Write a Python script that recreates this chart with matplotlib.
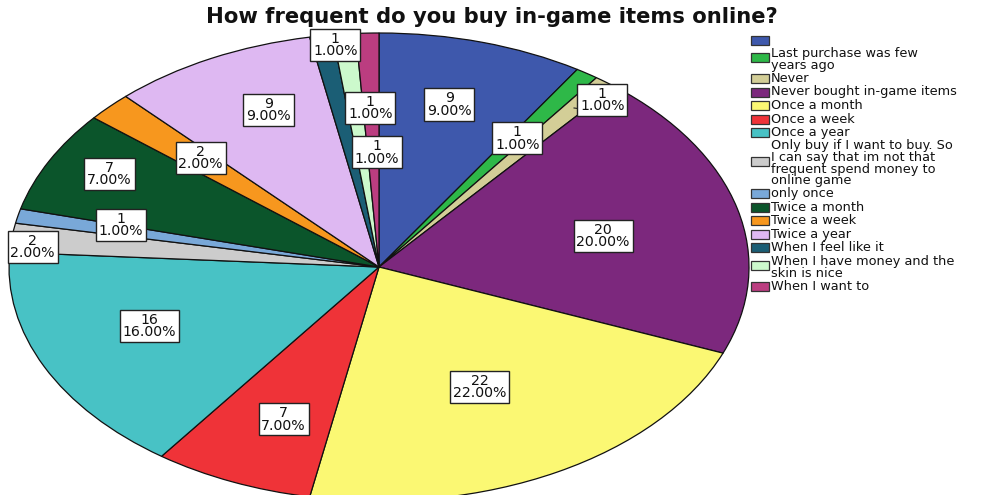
import matplotlib
matplotlib.use("Agg")
import matplotlib.pyplot as plt
from matplotlib.patches import Rectangle
import numpy as np

plt.rcParams["font.family"] = ["DejaVu Sans"]

# ---- data ---------------------------------------------------------------
categories = [
    "",
    "Last purchase was few\nyears ago",
    "Never",
    "Never bought in-game items",
    "Once a month",
    "Once a week",
    "Once a year",
    "Only buy if I want to buy. So\nI can say that im not that\nfrequent spend money to\nonline game",
    "only once",
    "Twice a month",
    "Twice a week",
    "Twice a year",
    "When I feel like it",
    "When I have money and the\nskin is nice",
    "When I want to",
]
counts = [9, 1, 1, 20, 22, 7, 16, 2, 1, 7, 2, 9, 1, 1, 1]
colors = [
    "#3E58AC", "#2EB848", "#D3CE97", "#7C287D", "#FBF873", "#EF3338",
    "#48C2C5", "#CCCCCC", "#79A8D8", "#0B552B", "#F7971E", "#DEB8F2",
    "#1B5E75", "#CCF9CC", "#BB3D80",
]
title = "How frequent do you buy in-game items online?"

# label placement: radial distance (fraction of radius) and angular nudge (deg)
label_r = [0.72, 0.665, 0.935, 0.62, 0.58, 0.70, 0.67, 0.94, 0.72, 0.83,
           0.67, 0.735, 0.956, 0.68, 0.49]
label_nudge = [0.9, 0, -2.4, -2, -0.8, 1.8, -3, 2, -1.8, -1.6, -0.8, -3,
               -1.9, -3.4, -1.2]

W, H = 992, 495
fig = plt.figure(figsize=(W / 100, H / 100), dpi=100)

# pie axes: centre (379, 267) px, half-axes 370 x 234 px
cx, cy, rx, ry = 379, 267, 370, 234
ax = fig.add_axes([(cx - rx) / W, (H - cy - ry) / H, 2 * rx / W, 2 * ry / H])
wedges, _ = ax.pie(
    counts, colors=colors, startangle=90, counterclock=False,
    wedgeprops=dict(edgecolor="#111111", linewidth=0.9),
)
ax.set_aspect("auto")
ax.set_xlim(-1, 1)
ax.set_ylim(-1, 1)
ax.axis("off")

total = sum(counts)
cum = np.cumsum([0] + counts[:-1])
for i, (c, start) in enumerate(zip(counts, cum)):
    mid = 90 - 360 * (start + c / 2) / total + label_nudge[i]
    a = np.deg2rad(mid)
    x, y = label_r[i] * np.cos(a), label_r[i] * np.sin(a)
    ax.text(x, y, f"{c}\n{100 * c / total:.2f}%", ha="center", va="center",
            fontsize=10.2, linespacing=0.86, color="#111111", zorder=5,
            bbox=dict(boxstyle="square,pad=0.2", fc="white", ec="#222222", lw=1))
    if categories[i] == "Never":
        a0 = np.deg2rad(90 - 360 * (start + c / 2) / total)
        ax.plot([0.86 * np.cos(a0), x - 0.03], [0.86 * np.sin(a0), y - 0.045],
                color="#222222", lw=0.8, zorder=4)

fig.text(0.496, 1 - 17 / H, title, ha="center", va="center",
         fontsize=15.2, fontweight="bold", color="#111111")

# legend drawn entry by entry
def fy(py):
    return 1 - py / H

sw_x, sw_w, sw_h, tx = 751, 18, 9, 771
line_step, entry_step = 11.2, 13.6
yline = 40.0
for lab, col in zip(categories, colors):
    n = lab.count("\n") + 1
    centre = yline + (n - 1) * line_step / 2
    sy = centre - (1.5 if n > 1 else 0)
    fig.patches.append(Rectangle((sw_x / W, fy(sy + sw_h / 2)), sw_w / W, sw_h / H,
                                 transform=fig.transFigure, fc=col,
                                 ec="#333333", lw=0.9))
    fig.text(tx / W, fy(centre), lab, ha="left", va="center",
             fontsize=9.3, linespacing=0.88, color="#111111")
    yline += (n - 1) * line_step + entry_step

fig.savefig("out.png", dpi=100)
